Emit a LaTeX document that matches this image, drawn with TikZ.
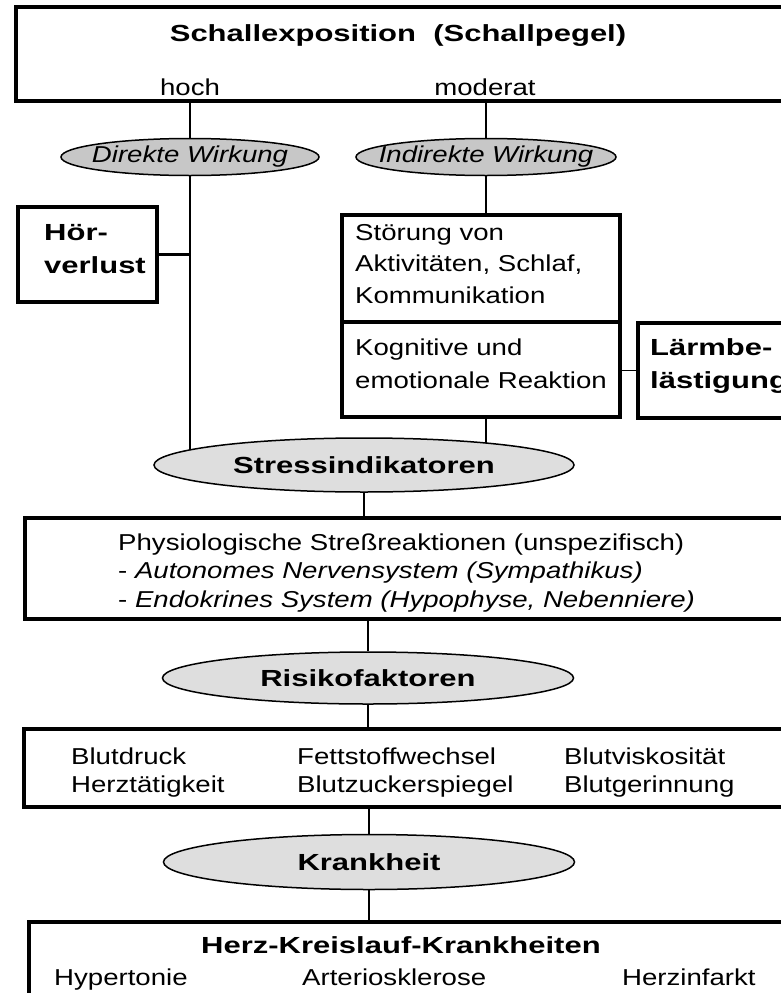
\documentclass[tikz,border=0pt]{standalone}
\usepackage{fontspec}
\setmainfont{Liberation Sans}[FakeStretch=1.2]
\newfontfamily\hdfont{Liberation Sans}[FakeStretch=1.33]
\usetikzlibrary{shapes.geometric,backgrounds}

\newcommand{\txtsize}{\fontsize{23}{31.5}\selectfont}
\newcommand{\hdsize}{\hdfont\bfseries\fontsize{23.3}{32.5}\selectfont}
\newcommand{\nobox}[1]{\makebox[0pt]{#1}}

\begin{document}
\begin{tikzpicture}[x=1pt,y=-1pt,
  box/.style={draw,line width=3.5pt,inner sep=0},
  oval/.style={ellipse,draw,line width=1.5pt,fill=black!13,inner sep=0},
  txt/.style={inner sep=0,align=left,font=\txtsize},
  hd/.style={inner sep=0,align=left,font=\hdsize},
  con/.style={line width=2.5pt}]

\useasboundingbox (0,0) rectangle (781,993);

% Schallexposition
\node[box,minimum width=784,minimum height=94] (expo) at (408,54) {};
\node[hd,anchor=base] (titel) at (398,41) {Schallexposition\ \ (Schallpegel)};
\node[txt,anchor=base] (hoch) at (190,95) {hoch};
\node[txt,anchor=base] (moderat) at (485,95) {moderat};

\node[oval,fill=black!22,minimum width=258,minimum height=37,font=\txtsize\itshape] (direkt) at (190,157) {\nobox{Direkte Wirkung}};
\node[oval,fill=black!22,minimum width=260,minimum height=37,font=\txtsize\itshape] (indirekt) at (486,157) {\nobox{Indirekte Wirkung}};

% Wirkungen
\node[box,minimum width=139,minimum height=95] (hoer) at (87.5,254.5) {};
\node[hd,anchor=west] (hoertxt) at (44,249) {Hör-\\verlust};

\node[box,minimum width=278,minimum height=107] (stoer1) at (481,268.5) {};
\node[txt,anchor=west] (stoertxt) at (355,264) {Störung von\\Aktivitäten, Schlaf,\\Kommunikation};
\node[box,minimum width=278,minimum height=95] (stoer2) at (481,369.5) {};
\node[txt,anchor=west,font=\fontsize{23}{33}\selectfont] (kogtxt) at (355,363.5) {Kognitive und\\emotionale Reaktion};

\node[box,minimum width=162,minimum height=95] (laerm) at (719,370.5) {};
\node[hd,anchor=west,font=\hdsize\fontsize{23.3}{33}\selectfont] (laermtxt) at (650,366) {Lärmbe-\\lästigung};

\node[oval,minimum width=420,minimum height=54,font=\hdsize] (stress) at (364,465) {Stressindikatoren};

% Reaktionen
\node[box,minimum width=775,minimum height=101] (physio) at (412.5,568.5) {};
\node[txt,anchor=west,font=\fontsize{23}{28.5}\selectfont] (physiotxt) at (118,573) {Physiologische Streßreaktionen (unspezifisch)\\- \textit{Autonomes Nervensystem (Sympathikus)}\\- \textit{Endokrines System (Hypophyse, Nebenniere)}};

\node[oval,minimum width=411,minimum height=52,font=\hdsize] (risiko) at (368,678) {Risikofaktoren};

\node[box,minimum width=776,minimum height=78] (blut) at (412,768) {};
\node[txt,anchor=west,font=\fontsize{23}{28}\selectfont] (blut1) at (71,773) {Blutdruck\\Herztätigkeit};
\node[txt,anchor=west,font=\fontsize{23}{28}\selectfont] (blut2) at (297,773) {Fettstoffwechsel\\Blutzuckerspiegel};
\node[txt,anchor=west,font=\fontsize{23}{28}\selectfont] (blut3) at (564,773) {Blutviskosität\\Blutgerinnung};

\node[oval,minimum width=411,minimum height=55,font=\hdsize] (krank) at (369,862) {Krankheit};

\node[box,minimum width=771,minimum height=88] (herz) at (414.5,966) {};
\node[hd] (herztitel) at (401,945) {Herz-Kreislauf-Krankheiten};
\node[txt,anchor=base west] (hyper) at (54,985) {Hypertonie};
\node[txt,anchor=base west] (arterio) at (302,985) {Arteriosklerose};
\node[txt,anchor=base west] (infarkt) at (622,985) {Herzinfarkt};

\begin{pgfonlayer}{background}
\draw[con] (expo.south -| direkt) -- (direkt.north);
\draw[con] (expo.south -| indirekt) -- (indirekt.north);
\draw[con] (direkt.south) -- (direkt |- stress.center);
\draw[con] (hoer.east) -- (hoer.east -| direkt);
\draw[con] (indirekt.south) -- (indirekt |- stoer1.north);
\draw[con] (stoer2.south -| indirekt) -- (indirekt |- stress.center);
\draw[line width=1.2pt] (stoer2.east |- laerm.west) -- (laerm.west);
\draw[con] (stress.south) -- (stress |- physio.north);
\draw[con] (physio.south -| risiko) -- (risiko.north);
\draw[con] (risiko.south) -- (risiko |- blut.north);
\draw[con] (blut.south -| krank) -- (krank.north);
\draw[con] (krank.south) -- (krank |- herz.north);
\end{pgfonlayer}

\end{tikzpicture}
\end{document}
